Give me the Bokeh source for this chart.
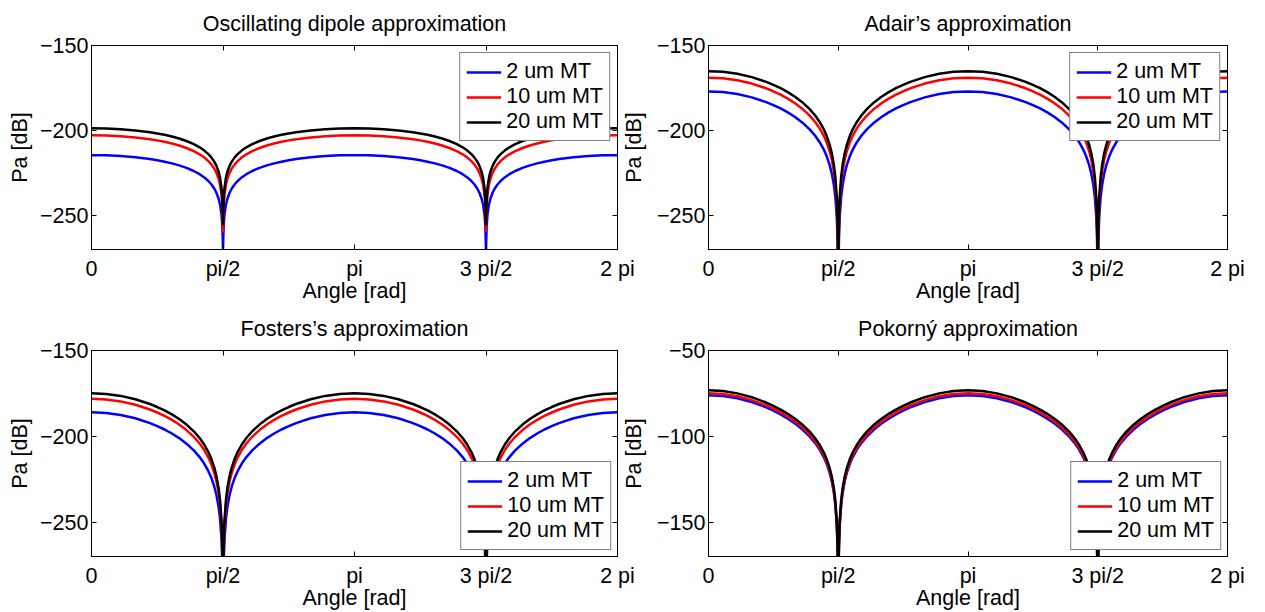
import math
from bokeh.plotting import figure
from bokeh.layouts import row, column
from bokeh.models import Range1d, FixedTicker, CustomJSTickFormatter, LinearAxis
from bokeh.embed import file_html
from bokeh.resources import INLINE

# ---- data (one quarter period, mirrored) ----
ANGLE_DEG = [0, 10, 20, 30, 40, 45, 50, 55, 60, 65, 70, 74, 77, 80, 82, 84,
             85.5, 87, 88, 89, 89.5, 89.8, 90]

# level relative to each curve's maximum [dB]
DIPOLE_DROP = [0, -0.13, -0.54, -1.25, -2.31, -3.01, -3.84, -4.83, -6.02, -7.48,
               -9.32, -11.19, -12.96, -15.21, -17.13, -19.62, -22.11, -25.62,
               -29.14, -35.16, -41.18, -49.14, -56.5]
ADAIR_DROP = [0, -0.39, -1.55, -3.50, -6.28, -8.02, -10.02, -12.34, -15.04,
              -18.25, -22.17, -26.08, -29.72, -34.29, -38.18, -43.19, -48.19,
              -55.24, -62.28, -74.33, -86.37, -102.28, -250.0]
FOSTER_DROP = [0, -0.39, -1.55, -3.50, -6.28, -8.02, -10.02, -12.34, -15.04,
               -18.25, -22.17, -26.08, -29.72, -34.29, -38.18, -43.19, -48.19,
               -55.24, -62.28, -74.33, -86.37, -102.28, -250.0]
POKORNY_DROP = [0, -0.45, -1.78, -4.00, -7.11, -9.02, -11.20, -13.68, -16.54,
                -19.89, -23.94, -27.93, -31.61, -36.23, -40.14, -45.16, -50.18,
                -57.23, -64.28, -76.32, -88.37, -104.28, -250.0]

SERIES_NAMES = ["2 um MT", "10 um MT", "20 um MT"]
SERIES_COLORS = ["#0000ff", "#ff0000", "#000000"]

DIPOLE_PEAK = [-214.5, -202.8, -198.7]
ADAIR_PEAK = [-177.0, -168.9, -165.1]
FOSTER_PEAK = [-186.0, -178.1, -174.9]
POKORNY_PEAK = [-76.0, -74.9, -73.2]

X_TICK_LABELS = ["0", "pi/2", "pi", "3 pi/2", "2 pi"]
Y_TICKS_A = [-250, -200, -150]
Y_TICKS_B = [-150, -100, -50]

FONT = "Liberation Sans"
FS = "21.5px"


def full_period(angles, drops):
    a_rev = angles[::-1][1:]
    d_rev = drops[::-1][1:]
    xs = list(angles) + [180 - a for a in a_rev] + [180 + a for a in angles[1:]] + [360 - a for a in a_rev]
    ds = list(drops) + d_rev + list(drops[1:]) + d_rev
    return [math.radians(x) for x in xs], ds


def panel(title, drops, peaks, yr, yticks, legend_loc, legend_margin, width, height,
          bl, br, bt, bb, ylab_standoff):
    p = figure(width=width, height=height, output_backend="svg", toolbar_location=None,
               x_range=Range1d(0, 2 * math.pi), y_range=Range1d(*yr),
               min_border_left=bl, min_border_right=br, min_border_top=bt,
               min_border_bottom=bb)
    p.title.text = title
    p.title.align = "center"
    p.title.text_font = FONT
    p.title.text_font_size = FS
    p.title.text_font_style = "normal"
    p.title.text_color = "black"
    p.title.standoff = 19

    p.xgrid.visible = False
    p.ygrid.visible = False
    p.outline_line_color = "black"
    p.outline_line_width = 1
    p.background_fill_color = "white"
    p.border_fill_alpha = 0

    xs, ds = full_period(ANGLE_DEG, drops)
    for name, color, peak in zip(SERIES_NAMES, SERIES_COLORS, peaks):
        ys = [peak + d for d in ds]
        p.line(xs, ys, line_color=color, line_width=2.5, line_join="round",
               legend_label=name)

    xticker = FixedTicker(ticks=[k * math.pi / 2 for k in range(5)])
    yticker = FixedTicker(ticks=yticks)
    xfmt = CustomJSTickFormatter(args=dict(labels=X_TICK_LABELS),
                                 code="return labels[Math.round(tick / (Math.PI / 2))];")
    yfmt = CustomJSTickFormatter(code="return (tick < 0 ? '\\u2212' : '') + Math.abs(tick).toString();")
    blank = CustomJSTickFormatter(code="return '';")

    xa = p.xaxis[0]
    xa.ticker = xticker
    xa.formatter = xfmt
    xa.axis_label = "Angle [rad]"
    xa.axis_label_standoff = -5
    xa.major_label_standoff = 7

    ya = p.yaxis[0]
    ya.ticker = yticker
    ya.formatter = yfmt
    ya.axis_label = "Pa [dB]"
    ya.axis_label_standoff = ylab_standoff
    ya.major_label_standoff = 3

    for ax in (xa, ya):
        ax.axis_label_text_font = FONT
        ax.axis_label_text_font_size = FS
        ax.axis_label_text_font_style = "normal"
        ax.axis_label_text_color = "black"
        ax.major_label_text_font = FONT
        ax.major_label_text_font_size = FS
        ax.major_label_text_color = "black"
        ax.major_tick_in = 5
        ax.major_tick_out = 0
        ax.minor_tick_line_color = None
        ax.axis_line_color = "black"
        ax.major_tick_line_color = "black"

    ra = LinearAxis(ticker=yticker, formatter=blank, major_label_text_font_size="1px",
                    major_label_standoff=0, major_tick_in=5, major_tick_out=0,
                    minor_tick_line_color=None, axis_line_color="black",
                    major_tick_line_color="black")
    ta = LinearAxis(ticker=xticker, formatter=blank, major_label_text_font_size="1px",
                    major_label_standoff=0, major_tick_in=5, major_tick_out=0,
                    minor_tick_line_color=None, axis_line_color="black",
                    major_tick_line_color="black")
    p.add_layout(ra, "right")
    p.add_layout(ta, "above")

    lg = p.legend[0]
    lg.location = legend_loc
    lg.margin = legend_margin
    lg.padding = 6
    lg.spacing = 0
    lg.glyph_width = 35
    lg.glyph_height = 24
    lg.label_height = 24
    lg.label_standoff = 5
    lg.label_text_font = FONT
    lg.label_text_font_size = FS
    lg.label_text_color = "black"
    lg.border_line_color = "black"
    lg.border_line_width = 1
    lg.background_fill_color = "white"
    lg.background_fill_alpha = 1
    return p


p1 = panel("Oscillating dipole approximation", DIPOLE_DROP, DIPOLE_PEAK, (-270, -150), Y_TICKS_A,
           "top_right", 7, 640, 305, 91, 23, 43, 49, 5)
p2 = panel("Adair\u2019s approximation", ADAIR_DROP, ADAIR_PEAK, (-270, -150), Y_TICKS_A,
           "top_right", 7, 646, 305, 84, 38, 43, 49, 8)
p3 = panel("Fosters\u2019s approximation", FOSTER_DROP, FOSTER_PEAK, (-270, -150), Y_TICKS_A,
           "bottom_right", 6, 640, 307, 91, 23, 43, 54, 5)
p4 = panel("Pokorn\u00fd approximation", POKORNY_DROP, POKORNY_PEAK, (-170, -50), Y_TICKS_B,
           "bottom_right", 6, 646, 307, 84, 38, 43, 54, 8)
p2.margin = (0, 0, 0, -21)
p4.margin = (0, 0, 0, -21)

layout = column(row(p1, p2), row(p3, p4))
open("out.html", "w").write(file_html(layout, INLINE))
